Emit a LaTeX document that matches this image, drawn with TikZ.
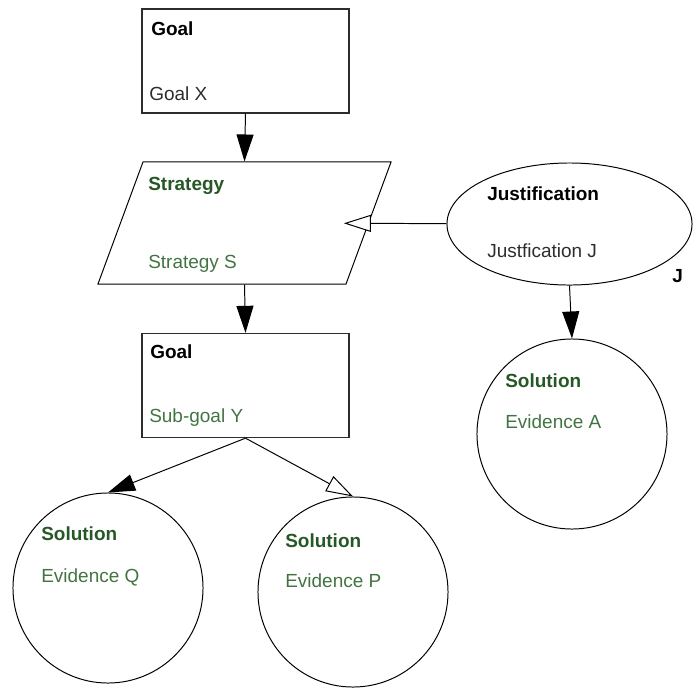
\documentclass[tikz,border=0pt]{standalone}
\usepackage{fontspec}
\setmainfont{Liberation Sans}
\usepackage{tikz}
\usetikzlibrary{arrows.meta, positioning, shapes.geometric}
\definecolor{gsngreen}{RGB}{38, 88, 38}
\definecolor{gsnlight}{RGB}{66, 116, 66}
\definecolor{gsngray}{RGB}{45, 45, 45}
\newcommand{\gsnhl}[1]{\textcolor{gsngreen}{\textbf{#1}}}
\newcommand{\gsntx}[1]{\textcolor{gsnlight}{#1}}

\begin{document}
\begin{tikzpicture}[x=0.025cm, y=-0.025cm,
    font=\fontsize{13.5}{16}\selectfont,
    gsnbox/.style={draw=gsngray, line width=0.9pt, minimum width=5.175cm,
                   minimum height=2.6cm, inner sep=0pt},
    gsnstrat/.style={trapezium, trapezium left angle=69.75,
                     trapezium right angle=110.25, trapezium stretches body=true,
                     draw, line width=0.7pt, minimum width=7.325cm,
                     minimum height=3.05cm, inner sep=0pt},
    gsnjust/.style={ellipse, draw, line width=0.7pt, minimum width=6.125cm,
                    minimum height=3.05cm, inner sep=0pt},
    gsnsol/.style={circle, draw, line width=0.7pt, minimum size=4.75cm, inner sep=0pt},
    gsntext/.style={anchor=base west, inner sep=0pt},
    solidarrow/.style={-{Triangle[length=0.675cm, width=0.425cm]}, line width=0.7pt},
    openarrow/.style={-{Triangle[fill=white, length=0.675cm, width=0.425cm]}, line width=0.7pt},
  ]
  \useasboundingbox (0,0) rectangle (700,687);

  % shapes
  \node[gsnbox] (goalX) at (245.5,61) {};
  \node[gsnstrat] (strat) at (244.5,223) {\rule{0pt}{3.05cm}};
  \node[gsnjust] (just) at (569.5,224) {};
  \node[gsnbox] (goalY) at (245.5,385.5) {};
  \node[gsnsol] (solQ) at (108,588) {};
  \node[gsnsol] (solP) at (353,592) {};
  \node[gsnsol] (solA) at (572,434) {};

  % texts
  \node[gsntext] (goalXhd) at (151,35) {\textbf{Goal}};
  \node[gsntext, text=gsngray] (goalXtx) at (149,100) {Goal X};
  \node[gsntext] (strathd) at (148,190) {\gsnhl{Strategy}};
  \node[gsntext] (strattx) at (148,268) {\gsntx{Strategy S}};
  \node[gsntext] (justhd) at (487,200) {\textbf{Justification}};
  \node[gsntext, text=gsngray] (justtx) at (487,257) {Justfication J};
  \node[gsntext] (justJ) at (672,282) {\textbf{J}};
  \node[gsntext] (goalYhd) at (150,358) {\textbf{Goal}};
  \node[gsntext] (goalYtx) at (149,422) {\gsntx{Sub-goal Y}};
  \node[gsntext] (solQhd) at (41,540) {\gsnhl{Solution}};
  \node[gsntext] (solQtx) at (41,582) {\gsntx{Evidence Q}};
  \node[gsntext] (solPhd) at (285,547) {\gsnhl{Solution}};
  \node[gsntext] (solPtx) at (285,587) {\gsntx{Evidence P}};
  \node[gsntext] (solAhd) at (505,387) {\gsnhl{Solution}};
  \node[gsntext] (solAtx) at (505,428) {\gsntx{Evidence A}};

  % connectors
  \draw[solidarrow] (goalX.south) -- (strat.north);
  \draw[solidarrow] (strat.south) -- (goalY.north);
  \draw[openarrow, shorten >=-0.625cm] (just) -- (strat);
  \draw[solidarrow] (just.south) -- (solA.north);
  \draw[solidarrow] (goalY.south) -- (solQ.north);
  \draw[openarrow] (goalY.south) -- (solP.north);
\end{tikzpicture}
\end{document}
